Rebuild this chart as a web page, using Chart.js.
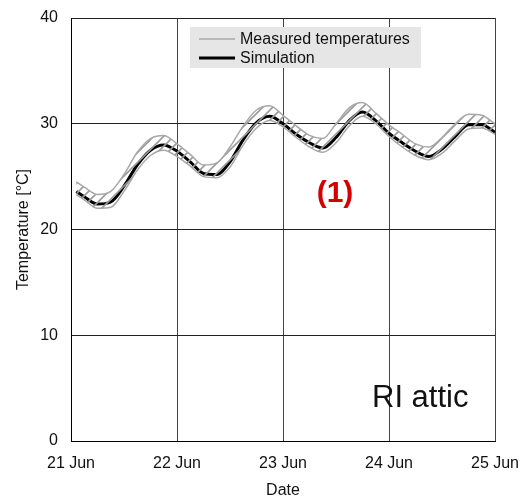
<!DOCTYPE html>
<html>
<head>
<meta charset="utf-8">
<script src="https://cdn.jsdelivr.net/npm/chart.js@4/dist/chart.umd.min.js"></script>
<style>
  html, body { margin: 0; padding: 0; background: #ffffff; }
  #wrap { width: 522px; height: 500px; }
</style>
</head>
<body>
<div id="wrap"><canvas id="c" width="522" height="500"></canvas></div>
<script>
// Axis labels
const dayLabels = ['21 Jun', '22 Jun', '23 Jun', '24 Jun', '25 Jun'];
const yTicks = [0, 10, 20, 30, 40];

// Simulated attic temperature (days since 21 Jun 00:00, °C)
const simDays = [0.05, 0.125, 0.25, 0.375, 0.5, 0.625, 0.75, 0.875, 1.0, 1.125, 1.25, 1.375, 1.5, 1.625, 1.75, 1.875,
                 2.0, 2.125, 2.25, 2.375, 2.5, 2.625, 2.75, 2.875, 3.0, 3.125, 3.25, 3.375, 3.5, 3.625, 3.75, 3.875, 4.0];
const simTemps = [23.6, 23.1, 22.4, 22.6, 24.1, 26.1, 27.5, 28.0, 27.4, 26.4, 25.3, 25.2, 26.4, 28.5, 30.1, 30.7,
                  30.0, 29.0, 28.2, 27.7, 28.7, 30.3, 31.1, 30.3, 29.1, 28.2, 27.4, 26.9, 27.6, 28.8, 29.9, 29.9, 29.2];

// Measured temperatures: upper and lower sensor traces
const measDays = [0.05, 0.125, 0.25, 0.375, 0.5, 0.625, 0.75, 0.875, 1.0, 1.125, 1.25, 1.375, 1.5, 1.625, 1.75, 1.875,
                  2.0, 2.125, 2.25, 2.375, 2.5, 2.625, 2.75, 2.875, 3.0, 3.125, 3.25, 3.375, 3.5, 3.625, 3.75, 3.875, 4.0];
const measUpper = [24.5, 24.0, 23.3, 23.6, 25.2, 27.3, 28.6, 28.9, 28.1, 27.1, 26.1, 26.3, 27.8, 29.8, 31.3, 31.7,
                   30.8, 29.8, 28.9, 28.6, 30.0, 31.5, 32.0, 31.0, 29.9, 29.0, 28.1, 27.8, 28.7, 30.0, 30.9, 30.8, 30.0];
const measLower = [23.3, 22.8, 22.0, 22.1, 23.6, 25.6, 27.0, 27.5, 26.9, 26.0, 25.0, 24.9, 25.9, 28.0, 29.6, 30.3,
                   29.7, 28.7, 27.8, 27.3, 28.2, 29.8, 30.7, 30.0, 28.8, 27.8, 27.0, 26.6, 27.2, 28.4, 29.5, 29.6, 29.0];

const FONT = '"Liberation Sans", Arial, sans-serif';

// Diagonal hatch used between the two measured traces
function makeHatch() {
  const t = document.createElement('canvas');
  t.width = 10; t.height = 10;
  const g = t.getContext('2d');
  g.strokeStyle = '#9a9a9a';
  g.lineWidth = 1.6;
  g.beginPath();
  g.moveTo(0, 10); g.lineTo(10, 0);
  g.moveTo(-5, 5); g.lineTo(5, -5);
  g.moveTo(5, 15); g.lineTo(15, 5);
  g.stroke();
  return g.createPattern(t, 'repeat');
}

const toPoints = (xs, ys) => xs.map((x, i) => ({ x: x, y: ys[i] }));

// Legend box and text annotations drawn inside the plot area
const plotNotes = {
  id: 'plotNotes',
  afterDraw(chart) {
    const ctx = chart.ctx;
    const a = chart.chartArea;
    const ds = chart.data.datasets;
    ctx.save();
    // legend box
    const bx = a.left + 119, by = a.top + 9, bw = 231, bh = 41;
    ctx.fillStyle = '#e6e6e6';
    ctx.fillRect(bx, by, bw, bh);
    const rows = [ds[0], ds[2]];
    ctx.font = '16px ' + FONT;
    ctx.textBaseline = 'middle';
    ctx.textAlign = 'left';
    rows.forEach((d, i) => {
      const y = by + 12 + i * 19;
      ctx.strokeStyle = d.borderColor;
      ctx.lineWidth = d.borderWidth;
      ctx.beginPath();
      ctx.moveTo(bx + 9, y);
      ctx.lineTo(bx + 45, y);
      ctx.stroke();
      ctx.fillStyle = '#111';
      ctx.fillText(d.label, bx + 50, y + 1);
    });
    // case number
    ctx.fillStyle = '#d40000';
    ctx.font = 'bold 30px ' + FONT;
    ctx.textAlign = 'center';
    ctx.fillText('(1)', a.left + 264, a.top + 176);
    // case name
    ctx.fillStyle = '#111';
    ctx.font = '31px ' + FONT;
    ctx.textAlign = 'left';
    ctx.textBaseline = 'alphabetic';
    ctx.fillText('RI attic', a.left + 301, a.top + 389);
    ctx.restore();
  }
};

const hatch = makeHatch();

new Chart(document.getElementById('c'), {
  type: 'line',
  data: {
    datasets: [
      {
        label: 'Measured temperatures',
        data: toPoints(measDays, measUpper),
        borderColor: '#a8a8a8',
        borderWidth: 1.5,
        backgroundColor: hatch,
        fill: '+1',
        pointRadius: 0,
        cubicInterpolationMode: 'monotone'
      },
      {
        label: 'Measured temperatures (2)',
        data: toPoints(measDays, measLower),
        borderColor: '#a8a8a8',
        borderWidth: 1.5,
        fill: false,
        pointRadius: 0,
        cubicInterpolationMode: 'monotone'
      },
      {
        label: 'Simulation',
        data: toPoints(simDays, simTemps),
        borderColor: '#000000',
        borderWidth: 3,
        fill: false,
        pointRadius: 0,
        cubicInterpolationMode: 'monotone'
      }
    ]
  },
  options: {
    responsive: false,
    animation: false,
    devicePixelRatio: 1,
    layout: { padding: { left: 0, right: 27, top: 18, bottom: 0 } },
    plugins: {
      legend: { display: false },
      tooltip: { enabled: false }
    },
    scales: {
      x: {
        type: 'linear',
        min: 0,
        max: dayLabels.length - 1,
        afterBuildTicks(scale) { scale.ticks = dayLabels.map((_, i) => ({ value: i })); },
        afterFit(scale) {
          scale.height = 59;
          scale.paddingLeft = 0;
          scale.paddingRight = 0;
        },
        ticks: {
          callback: (v) => dayLabels[v],
          font: { family: FONT, size: 16 },
          color: '#111',
          padding: 13,
          maxRotation: 0
        },
        grid: { color: '#444', lineWidth: 1, drawTicks: false },
        border: { color: '#000', width: 1 },
        title: {
          display: true,
          text: 'Date',
          font: { family: FONT, size: 16 },
          color: '#111',
          padding: { top: 0, bottom: 0 }
        }
      },
      y: {
        min: 0,
        max: 40,
        afterBuildTicks(scale) { scale.ticks = yTicks.map(v => ({ value: v })); },
        afterFit(scale) {
          scale.width = 71;
          scale.paddingTop = 0;
          scale.paddingBottom = 0;
        },
        ticks: {
          font: { family: FONT, size: 16 },
          color: '#111',
          padding: 13
        },
        grid: { color: '#222', lineWidth: 1, drawTicks: false },
        border: { color: '#000', width: 1 },
        title: {
          display: true,
          text: 'Temperature [°C]',
          font: { family: FONT, size: 16 },
          color: '#111',
          padding: { top: 14, bottom: 0 }
        }
      }
    }
  },
  plugins: [plotNotes]
});
</script>
</body>
</html>
